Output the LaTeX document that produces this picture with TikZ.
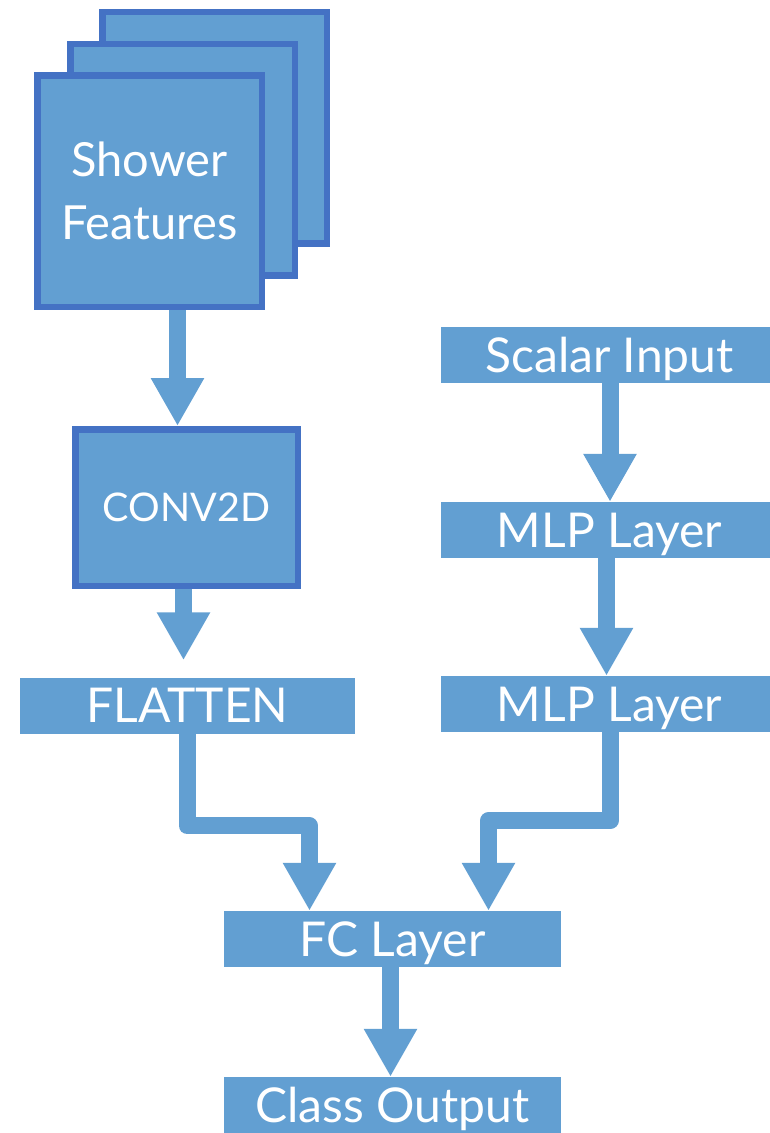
\documentclass[tikz,border=0pt]{standalone}
\usepackage{fontspec}
\setmainfont{Lato}
\usetikzlibrary{arrows.meta,calc}
\definecolor{boxfill}{HTML}{629FD2}
\definecolor{boxline}{HTML}{4472C4}
\tikzset{
  layer/.style={fill=boxfill, draw=none, minimum width=337pt, minimum height=56pt,
    inner sep=0pt, text=white, font=\fontsize{48}{50}\selectfont,
    text height=34.2pt, text depth=0pt},
  framed/.style={fill=boxfill, draw=boxline, line width=6.5pt, inner sep=0pt, text=white},
  flow/.style={draw=boxfill, line width=17pt, line join=round,
    -{Triangle[width=50pt,length=48pt]}},
}
\begin{document}
\begin{tikzpicture}[x=1pt, y=-1pt]
\useasboundingbox (0,0) rectangle (769,1133);

% stacked feature maps
\node[framed, minimum width=224.5pt, minimum height=231.5pt] (back) at (214.5,127.5) {};
\node[framed, minimum width=224.5pt, minimum height=231.5pt] (middle) at (182.5,159.5) {};
\node[framed, minimum width=224.5pt, minimum height=231.5pt, align=center,
  font=\fontsize{47}{63}\selectfont] (front) at (149.5,191) {Shower\\Features};

% convolutional branch
\node[framed, minimum width=222.5pt, minimum height=156.5pt,
  font=\fontsize{39.5}{42}\selectfont, text height=28.3pt, text depth=0pt] (conv) at (186.5,507.5) {CONV2D};
\node[layer, minimum width=335pt] (flatten) at (187.5,705.5) {FLATTEN};

% scalar branch
\node[layer] (scalar) at (609.5,355) {Scalar Input};
\node[layer] (mlp1) at (609.5,530) {MLP Layer};
\node[layer] (mlp2) at (609.5,704) {MLP Layer};

% merge and output
\node[layer] (fc) at (392.5,939) {FC Layer};
\node[layer] (out) at (392.5,1105) {Class Output};

% connectors
\draw[flow] ($(front.south)+(28,0)$) -- ($(conv.north)+(-9,0)$);
\draw[flow] ($(conv.south)+(-3,0)$) -- ($(flatten.north)+(-4,-17)$);
\draw[flow] ($(scalar.south)+(0.5,0)$) -- ($(mlp1.north)+(0.5,0)$);
\draw[flow] ($(mlp1.south)+(-3,0)$) -- ($(mlp2.north)+(-3,0)$);
\draw[flow] ($(flatten.south)+(-0.5,0)$) |- ($(fc.north)+(-83,-85)$) -- ($(fc.north)+(-83,0)$);
\draw[flow] ($(mlp2.south)+(0.5,0)$) |- ($(fc.north)+(96,-90)$) -- ($(fc.north)+(96,0)$);
\draw[flow] ($(fc.south)+(-2,0)$) -- ($(out.north)+(-2,0)$);
\end{tikzpicture}
\end{document}
